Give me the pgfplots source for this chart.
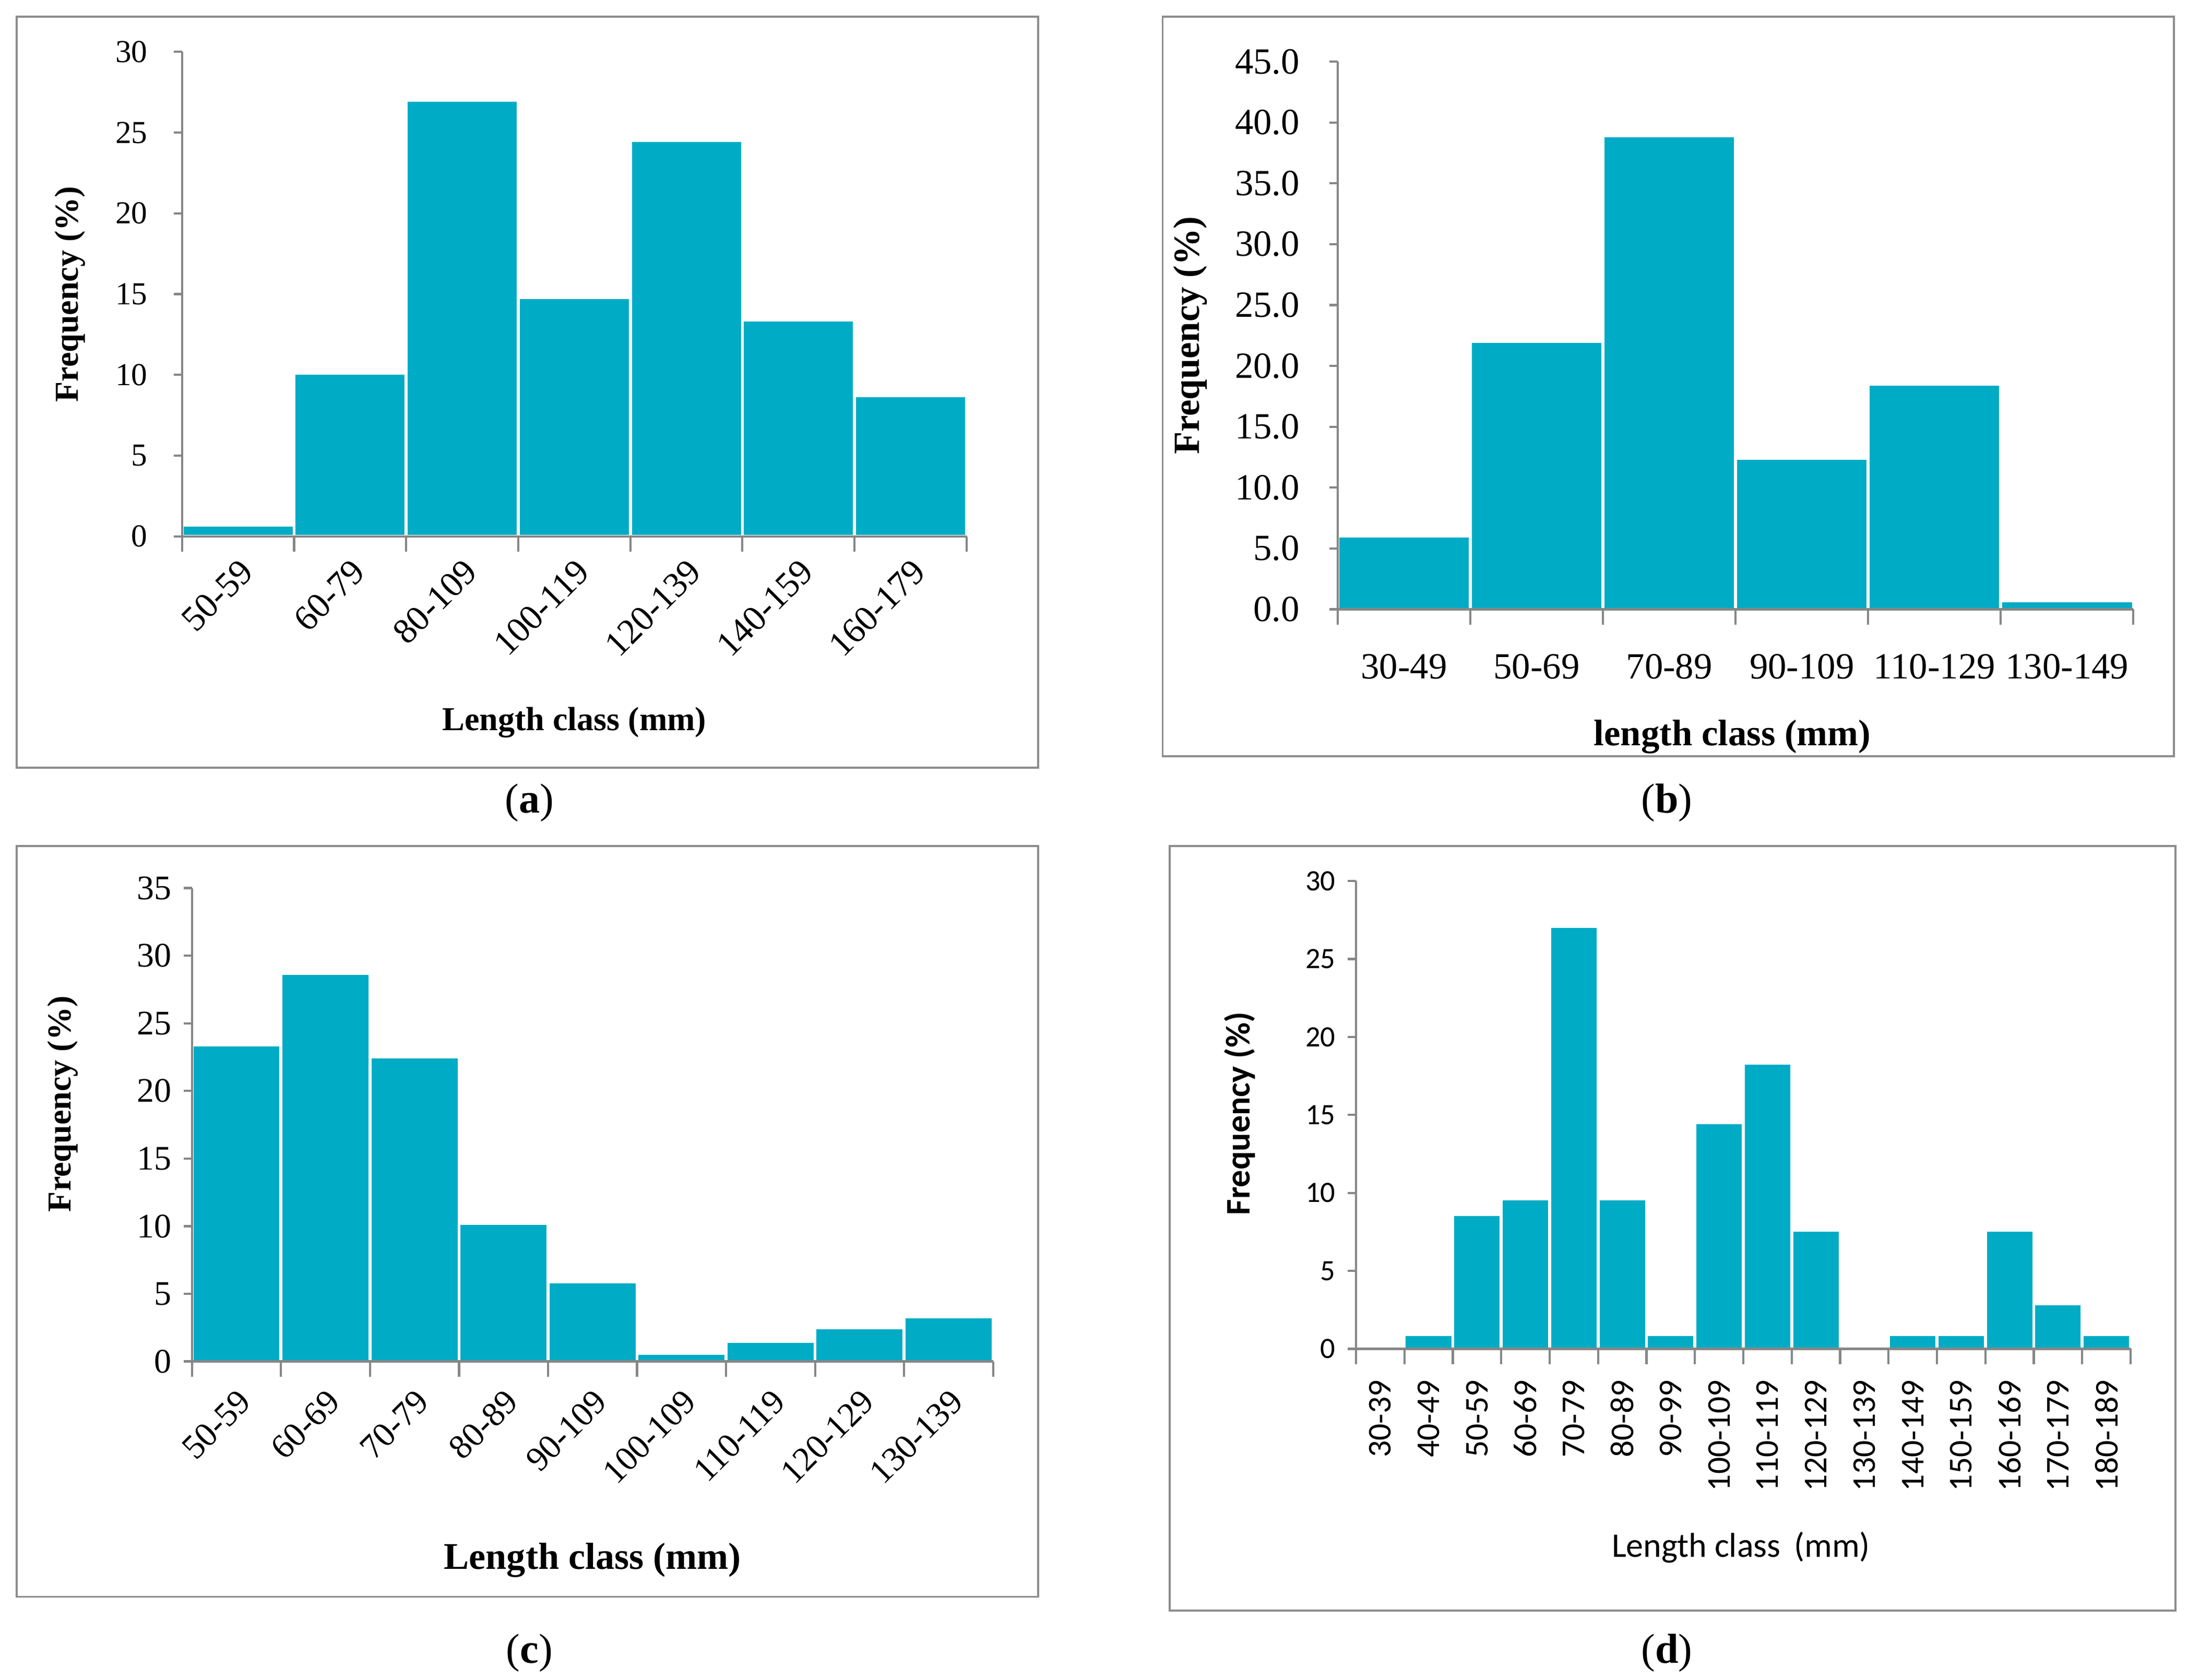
\documentclass[border=0pt]{standalone}
\usepackage{fontspec}
\setmainfont{Liberation Serif}
\newfontfamily\carlito{Carlito}
\usepackage{pgfplots}
\pgfplotsset{compat=1.18}

\definecolor{barcol}{RGB}{0,172,197}
\definecolor{axgray}{RGB}{134,134,134}
\definecolor{framegray}{RGB}{140,140,140}

\pgfplotsset{
  hist/.style={
    scale only axis,
    anchor=south west,
    ybar, bar width=1,
    ymin=0,
    axis on top,
    clip=false,
    axis lines=left,
    axis line style={-, draw=axgray, line width=0.9pt},
    tick align=outside,
    tick style={draw=axgray, line width=0.9pt},
    major x tick style={draw=none},
    major tick length=0.12cm,
    minor tick length=0.22cm,
    /pgf/number format/assume math mode=true,
  },
  barsty/.style={fill=barcol, draw=white, line width=1.2pt},
}

\begin{document}
\begin{tikzpicture}
\useasboundingbox (0,0) rectangle (31.24,23.986);

% panel frames
\draw[framegray, line width=0.8pt] (0.24,23.746) rectangle (14.82,13.026);
\draw[framegray, line width=0.8pt] (16.60,23.746) rectangle (31.04,13.186);
\draw[framegray, line width=0.8pt] (0.24,11.906) rectangle (14.82,1.186);
\draw[framegray, line width=0.8pt] (16.70,11.906) rectangle (31.06,0.986);

% (a)
\begin{axis}[hist,
  at={(2.60cm,16.326cm)}, width=11.20cm, height=6.92cm,
  xmin=-0.5, xmax=6.5, ymax=30, ytick={0,5,...,30},
  xtick={0,...,6}, minor xtick={-0.5,0.5,...,6.5},
  xticklabels={50-59,60-79,80-109,100-119,120-139,140-159,160-179},
  xticklabel style={yshift=-0.12cm, rotate=45, anchor=north east, inner sep=1pt,
    font=\fontsize{14.5}{17}\selectfont},
  yticklabel style={font=\fontsize{13}{15}\selectfont, xshift=-0.25cm},
  xlabel={Length class (mm)}, ylabel={Frequency (\%)},
  xlabel style={at={(axis description cs:0.5,-0.384)}, anchor=center,
    font=\bfseries\fontsize{13.6}{16}\selectfont},
  ylabel style={at={(axis description cs:-0.143,0.5)}, anchor=center,
    font=\bfseries\fontsize{13.6}{16}\selectfont},
]
\addplot[barsty] coordinates {(0,0.7) (1,10.1) (2,27.0) (3,14.8) (4,24.5) (5,13.4) (6,8.7)};
\end{axis}

% (b)
\begin{axis}[hist,
  at={(19.10cm,15.286cm)}, width=11.36cm, height=7.82cm,
  xmin=-0.5, xmax=5.5, ymax=45, ytick={0,5,...,45},
  xtick={0,...,5}, minor xtick={-0.5,0.5,...,5.5},
  xticklabels={30-49,50-69,70-89,90-109,110-129,130-149},
  xticklabel style={anchor=north, yshift=-0.4cm,
    font=\fontsize{15}{17}\selectfont},
  yticklabel style={font=\fontsize{15}{17}\selectfont, xshift=-0.3cm,
    /pgf/number format/.cd, fixed, fixed zerofill, precision=1},
  xlabel={length class (mm)}, ylabel={Frequency (\%)},
  xlabel style={at={(axis description cs:0.496,-0.233)}, anchor=center,
    font=\bfseries\fontsize{15}{17}\selectfont},
  ylabel style={at={(axis description cs:-0.185,0.5)}, anchor=center,
    font=\bfseries\fontsize{15}{17}\selectfont},
]
\addplot[barsty] coordinates {(0,6.0) (1,22.0) (2,38.9) (3,12.4) (4,18.5) (5,0.7)};
\end{axis}

% (c)
\begin{axis}[hist,
  at={(2.74cm,4.546cm)}, width=11.44cm, height=6.76cm,
  xmin=-0.5, xmax=8.5, ymax=35, ytick={0,5,...,35},
  xtick={0,...,8}, minor xtick={-0.5,0.5,...,8.5},
  xticklabels={50-59,60-69,70-79,80-89,90-109,100-109,110-119,120-129,130-139},
  xticklabel style={yshift=-0.2cm, rotate=45, anchor=north east, inner sep=1pt,
    font=\fontsize{14}{16}\selectfont},
  yticklabel style={font=\fontsize{14}{16}\selectfont, xshift=-0.05cm},
  xlabel={Length class (mm)}, ylabel={Frequency (\%)},
  xlabel style={at={(axis description cs:0.5,-0.42)}, anchor=center,
    font=\bfseries\fontsize{15.3}{18}\selectfont},
  ylabel style={at={(axis description cs:-0.161,0.544)}, anchor=center,
    font=\bfseries\fontsize{13.6}{16}\selectfont},
]
\addplot[barsty] coordinates {(0,23.4) (1,28.7) (2,22.5) (3,10.2) (4,5.9) (5,0.6) (6,1.5) (7,2.5) (8,3.3)};
\end{axis}

% (d)
\begin{axis}[hist,
  at={(19.36cm,4.726cm)}, width=11.06cm, height=6.68cm,
  xmin=-0.5, xmax=15.5, ymax=30, ytick={0,5,...,30},
  xtick={0,...,15}, minor xtick={-0.5,0.5,...,15.5},
  xticklabels={30-39,40-49,50-59,60-69,70-79,80-89,90-99,100-109,110-119,120-129,130-139,140-149,150-159,160-169,170-179,180-189},
  xticklabel style={yshift=-0.2cm, rotate=90, anchor=east,
    font=\carlito\fontsize{13.5}{15}\selectfont},
  yticklabel style={font=\carlito\fontsize{12}{14}\selectfont, xshift=-0.05cm},
  xlabel={Length class\, (mm)}, ylabel={Frequency (\%)},
  xlabel style={at={(axis description cs:0.497,-0.425)}, anchor=center,
    font=\carlito\fontsize{14}{16}\selectfont},
  ylabel style={at={(axis description cs:-0.150,0.503)}, anchor=center,
    font=\carlito\bfseries\fontsize{14}{16}\selectfont},
]
\addplot[barsty] coordinates {(0,0) (1,0.9) (2,8.6) (3,9.6) (4,27.1) (5,9.6) (6,0.9) (7,14.5) (8,18.3) (9,7.6) (10,0) (11,0.9) (12,0.9) (13,7.6) (14,2.9) (15,0.9)};
\end{axis}

% captions
\node[font=\fontsize{17}{20}\selectfont] at (7.56,12.526) {(\textbf{a})};
\node[font=\fontsize{17}{20}\selectfont] at (23.80,12.526) {(\textbf{b})};
\node[font=\fontsize{17}{20}\selectfont] at (7.56,0.386) {(\textbf{c})};
\node[font=\fontsize{17}{20}\selectfont] at (23.80,0.386) {(\textbf{d})};
\end{tikzpicture}
\end{document}
